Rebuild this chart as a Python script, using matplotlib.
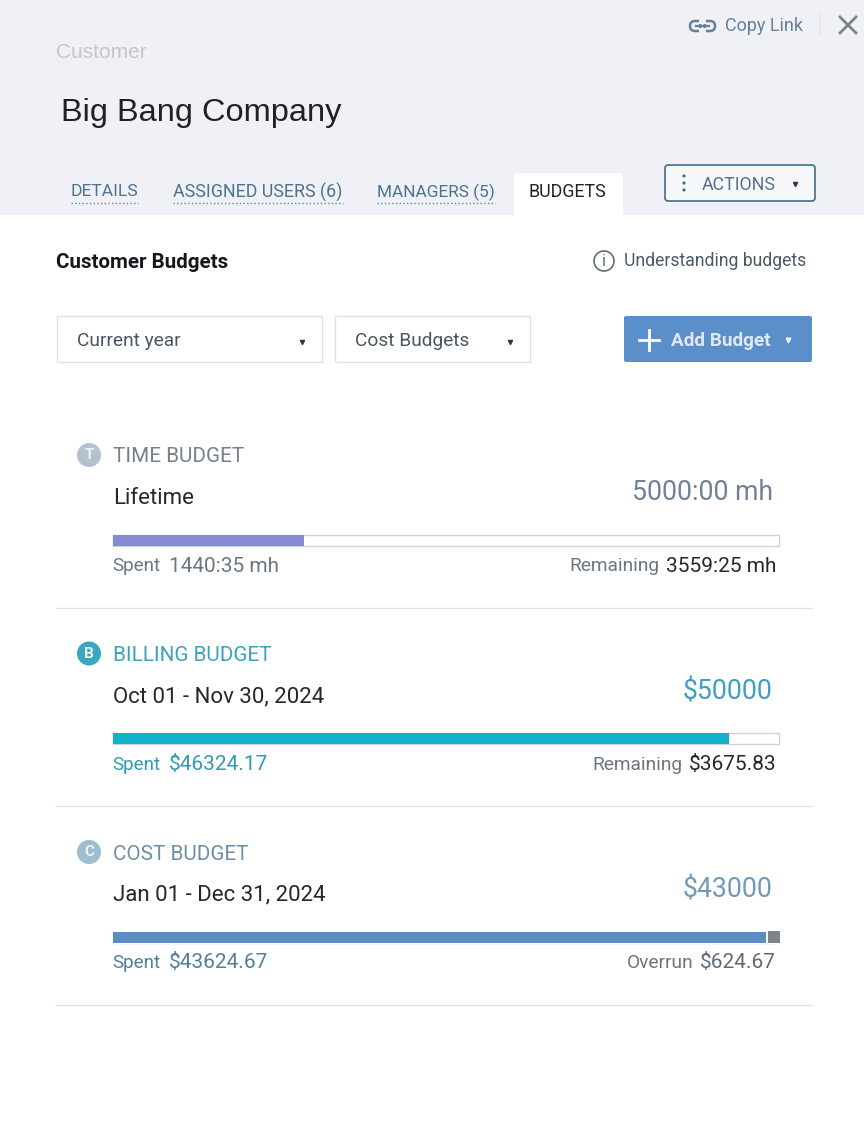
import matplotlib
matplotlib.use('Agg')
import matplotlib.pyplot as plt
from matplotlib.patches import Rectangle, FancyBboxPatch, Circle

plt.rcParams['font.family'] = ['Roboto', 'DejaVu Sans']

W, H = 864, 1121

tabs = ['DETAILS', 'ASSIGNED USERS (6)', 'MANAGERS (5)', 'BUDGETS']
tab_x = [71, 173, 377, 529]
tab_end = [138, 343, 495, 607]
tab_size = [12.6, 12.9, 12.4, 12.9]

names = ['TIME BUDGET', 'BILLING BUDGET', 'COST BUDGET']
letters = ['T', 'B', 'C']
periods = ['Lifetime', 'Oct 01 - Nov 30, 2024', 'Jan 01 - Dec 31, 2024']
totals = ['5000:00 mh', '$50000', '$43000']
spent_lbl = ['1440:35 mh', '$46324.17', '$43624.67']
rest_kind = ['Remaining', 'Remaining', 'Overrun']
rest_lbl = ['3559:25 mh', '$3675.83', '$624.67']
budget = [300000, 50000, 43000]
spent = [86435, 46324.17, 43000]
over = [0, 0, 624.67]
bar_col = ['#8589d6', '#12b0c9', '#5b8cc4']
name_col = ['#75808c', '#3aa3bd', '#6b8fa5']
total_col = ['#6f8296', '#3f9fc0', '#6f9ab8']
spent_col = ['#6b7680', '#2e9cb5', '#4f7f9c']
rest_col = ['#23282d', '#23282d', '#5f6b76']
icon_col = ['#b5c1cf', '#3aa7c2', '#9dbdd0']
row_top = [0, 198.5, 397]
rest_x = [659, 682, 694]

fig = plt.figure(figsize=(W/100, H/100), dpi=100)
ax = fig.add_axes([0, 0, 1, 1])
ax.set_xlim(0, W)
ax.set_ylim(H, 0)
ax.axis('off')

# header
ax.add_patch(Rectangle((0, 0), W, 215, fc='#f0f1f6', ec='none'))
ax.add_patch(FancyBboxPatch((514, 173), 109, 50, boxstyle='round,pad=0,rounding_size=3', fc='white', ec='none'))
ax.add_patch(Rectangle((0, 215), W, 20, fc='white', ec='none'))
ax.text(56, 52, 'Customer', fontsize=15, color='#c3c6cb', va='center', family='Liberation Sans')
ax.text(61, 113, 'Big Bang Company', fontsize=23.4, color='#1e2226', va='center', family='Liberation Sans')
ax.text(725, 26, 'Copy Link', fontsize=13, color='#64819a', va='center')
# link icon
ax.add_patch(FancyBboxPatch((690, 21), 15, 10, boxstyle='round,pad=0,rounding_size=5', fc='none', ec='#64819a', lw=1.8))
ax.add_patch(FancyBboxPatch((700, 21), 15, 10, boxstyle='round,pad=0,rounding_size=5', fc='none', ec='#64819a', lw=1.8))
ax.add_patch(Rectangle((699, 18), 7, 6, fc='#f0f1f6', ec='none'))
ax.add_patch(Rectangle((699, 28), 7, 6, fc='#f0f1f6', ec='none'))
ax.plot([696, 709], [26, 26], color='#64819a', lw=1.6)
ax.plot([819, 819], [14, 36], color='#e3e5ea', lw=1)
ax.plot([840, 856], [17, 33], color='#7c8288', lw=2)
ax.plot([840, 856], [33, 17], color='#7c8288', lw=2)

for i, t in enumerate(tabs):
    c = '#1f2429' if t == 'BUDGETS' else '#4d7390'
    ax.text(tab_x[i], 192, t, fontsize=tab_size[i], color=c, va='center')
    if t != 'BUDGETS':
        ax.plot([tab_x[i], tab_end[i]], [203, 203], color='#5d84a0', lw=1, ls=':')

ax.add_patch(FancyBboxPatch((665, 165), 150, 36, boxstyle='round,pad=0,rounding_size=3',
                            fc='#f7f8fa', ec='#3f6f88', lw=1.2))
for y in [176, 183, 190]:
    ax.add_patch(Circle((684, y), 1.6, fc='#3f6f88', ec='none'))
ax.text(702, 185, 'ACTIONS', fontsize=12.8, color='#55708a', va='center')
ax.plot([795], [184], marker='v', ms=3, color='#30363c')

# toolbar
ax.text(56, 262, 'Customer Budgets', fontsize=14.8, fontweight='bold', color='#15181b', va='center')
ax.add_patch(Circle((604, 261), 10, fc='none', ec='#5f6b75', lw=1.2))
ax.text(604, 261, 'i', fontsize=12, color='#5f6b75', va='center', ha='center')
ax.text(624, 261, 'Understanding budgets', fontsize=12.7, color='#4e5964', va='center')

for x0, w, lbl in [(57, 265, 'Current year'), (335, 195, 'Cost Budgets')]:
    ax.add_patch(Rectangle((x0, 316), w, 46, fc='white', ec='#e0e3e7', lw=1))
    ax.text(x0 + 20, 341, lbl, fontsize=13.8, color='#4c5660', va='center')
    ax.plot([x0 + w - 20], [342], marker='v', ms=3, color='#30363c')

ax.add_patch(FancyBboxPatch((624, 316), 188, 46, boxstyle='round,pad=0,rounding_size=2',
                            fc='#5b8fc9', ec='none'))
ax.plot([639, 659], [340, 340], color='white', lw=2)
ax.plot([649, 649], [330, 350], color='white', lw=2)
ax.text(671, 341, 'Add Budget', fontsize=13.6, fontweight='bold', color='#dfe9f5', va='center')
ax.plot([788], [340], marker='v', ms=3.5, color='#e8f0f8')

# budget rows
for i in range(3):
    dy = row_top[i]
    ax.add_patch(Circle((89, 455 + dy), 12, fc=icon_col[i], ec='none'))
    ax.text(89, 455 + dy, letters[i], fontsize=11, fontweight='bold', color='#eef3f7', va='center', ha='center')
    ax.text(113, 457 + dy, names[i], fontsize=14.9, color=name_col[i], va='center')
    ax.text(113, 498 + dy, periods[i], fontsize=16, color='#23282d', va='center')
    ax.text(773, 493 + dy, totals[i], fontsize=19.2, color=total_col[i], va='center', ha='right')

    # bar, scaled from the budget total
    x0, x1 = 113, 779
    ax.add_patch(Rectangle((x0, 534.5 + dy), x1 - x0, 11, fc='white', ec='#c8d3de', lw=1))
    if over[i] > 0:
        scale = 662 / (spent[i] + over[i])
        ax.add_patch(Rectangle((x0 - 1, 534.5 + dy), x1 - x0 + 2, 11, fc='white', ec='white', lw=1.5))
        ax.add_patch(Rectangle((x0, 534.5 + dy), spent[i] * scale, 11, fc=bar_col[i], ec='none'))
        ax.add_patch(Rectangle((x0 + spent[i] * scale + 2, 533.5 + dy), over[i] * scale + 2.5, 12.5,
                               fc='#7f8489', ec='none'))
    else:
        scale = 664.5 / budget[i]
        ax.add_patch(Rectangle((x0, 534.5 + dy), spent[i] * scale, 11, fc=bar_col[i], ec='none'))

    ax.text(112.5, 566 + dy, 'Spent', fontsize=13.5, color=spent_col[i], va='center')
    ax.text(169, 566 + dy, spent_lbl[i], fontsize=15, color=spent_col[i], va='center')
    ax.text(776, 566 + dy, rest_lbl[i], fontsize=15, color=rest_col[i], va='center', ha='right')
    ax.text(rest_x[i], 566 + dy, rest_kind[i], fontsize=13.8, color='#6b7680', va='center', ha='right')
    ax.plot([56, 812], [607.5 + dy, 607.5 + dy], color='#dfe3e7', lw=1)

fig.savefig('out.png', dpi=100)
